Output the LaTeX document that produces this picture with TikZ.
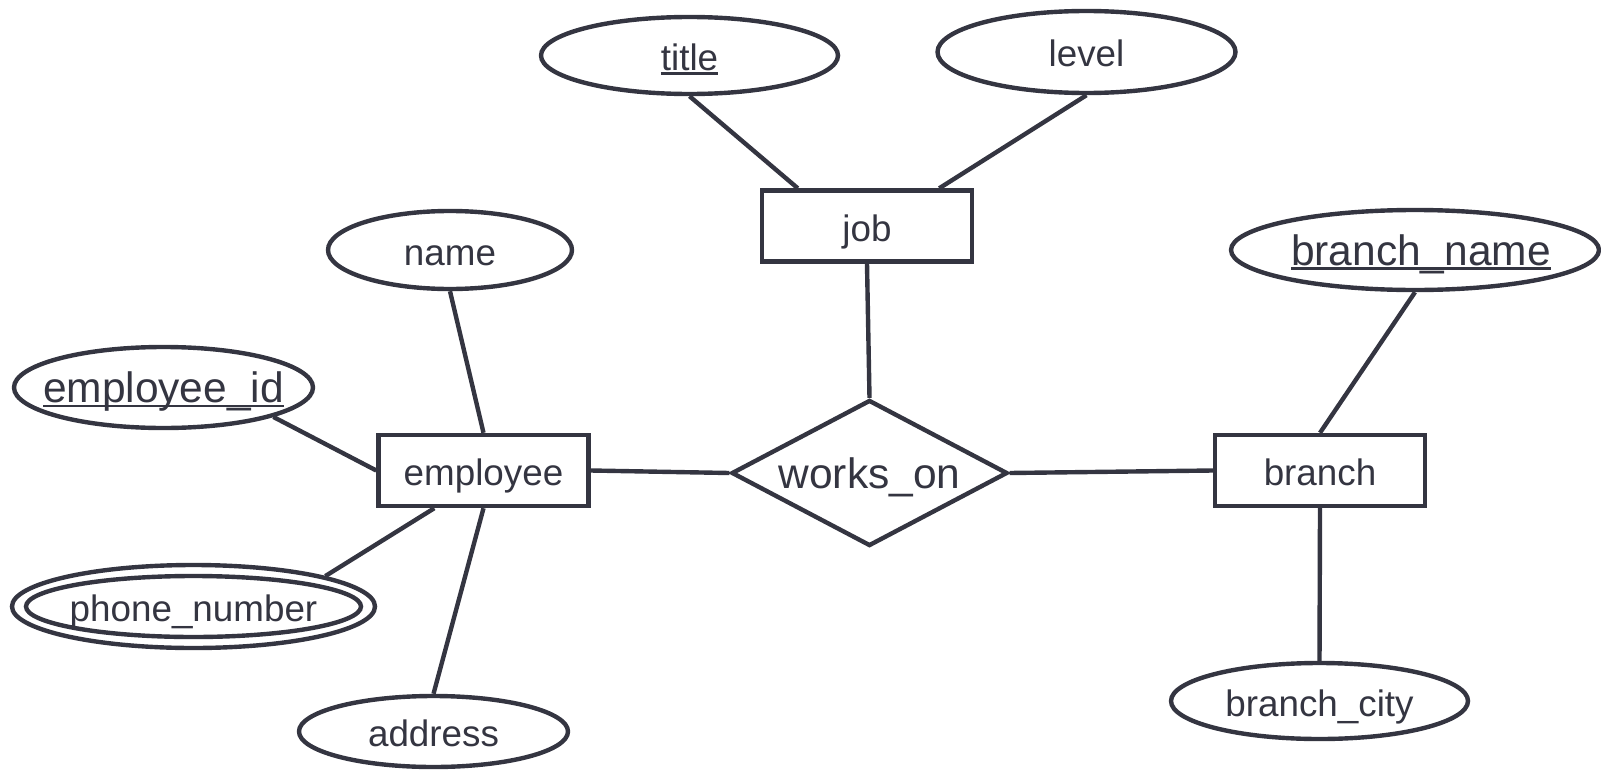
\documentclass[tikz,border=0pt]{standalone}
\usepackage{fontspec}
\setmainfont{Liberation Sans}
\usetikzlibrary{shapes.geometric}

\definecolor{erline}{RGB}{52,53,65}

% key attribute: text with a rule just under the baseline
\newsavebox\keybox
\newcommand{\keyattr}[1]{\sbox\keybox{#1}\rlap{\rule[-0.11em]{\wd\keybox}{0.06em}}\usebox\keybox}
% zero-width label so that the shape keeps its own size
\newcommand{\centredlabel}[1]{\makebox[0pt]{#1}}

\tikzset{
  erbase/.style={draw=erline, line width=4.4bp, fill=white, text=erline,
    inner sep=0pt, text height=32bp, text depth=2bp,
    font=\fontsize{36.8bp}{44bp}\selectfont},
  bigtext/.style={font=\fontsize{42.5bp}{50bp}\selectfont},
  entity/.style={erbase, rectangle, minimum width=210bp, minimum height=71bp},
  attr/.style={erbase, ellipse},
  relation/.style={erbase, diamond, minimum width=276bp, minimum height=146bp},
  link/.style={draw=erline, line width=4.4bp},
}

\begin{document}
\begin{tikzpicture}[x=1bp, y=-1bp]
\useasboundingbox (0,0) rectangle (1601,772);

% entities and relationship
\node[entity] (job) at (867,226) {job};
\node[entity] (employee) at (483.5,470.5) {employee};
\node[entity] (branch) at (1320,470.5) {branch};
\node[relation, bigtext] (works) at (869.5,473) {\centredlabel{works\_on}};

% attributes
\node[attr, minimum width=297bp, minimum height=77bp] (title) at (689.5,55.5) {\centredlabel{\keyattr{title}}};
\node[attr, minimum width=298bp, minimum height=82bp] (level) at (1086.5,52) {\centredlabel{level}};
\node[attr, minimum width=244bp, minimum height=78bp] (name) at (450,250) {\centredlabel{name}};
\node[attr, bigtext, minimum width=368bp, minimum height=80bp] (branchname) at (1415,250) {\centredlabel{\hspace*{12bp}\keyattr{branch\_name}}};
\node[attr, bigtext, minimum width=299bp, minimum height=81bp] (empid) at (163.5,387.5) {\centredlabel{\keyattr{employee\_id}}};
\node[attr, minimum width=363bp, minimum height=83bp] (phone) at (193.5,606.5) {\centredlabel{phone\_number}};
\draw[erline, line width=4.4bp] (phone.center) ellipse [x radius=167.5, y radius=30.5];
\node[attr, minimum width=269bp, minimum height=71bp] (address) at (433.5,731.5) {\centredlabel{address}};
\node[attr, minimum width=297bp, minimum height=76bp] (branchcity) at (1319.5,701) {\centredlabel{branch\_city}};

% connectors
\draw[link] (title.south) -- ([xshift=38bp]job.north west);
\draw[link] (level.south) -- ([xshift=-35bp]job.north east);
\draw[link] (job.south) -- (works.north);
\draw[link] (name.south) -- (employee.north);
\draw[link] (empid.-15) -- (employee.west);
\draw[link] (phone.13) -- ([xshift=58bp]employee.south west);
\draw[link] (employee.south) -- (address.north);
\draw[link] (employee.east) -- (works.west);
\draw[link] (works.east) -- (branch.west);
\draw[link] (branchname.south) -- (branch.north);
\draw[link] (branch.south) -- (branchcity.north);
\end{tikzpicture}
\end{document}
